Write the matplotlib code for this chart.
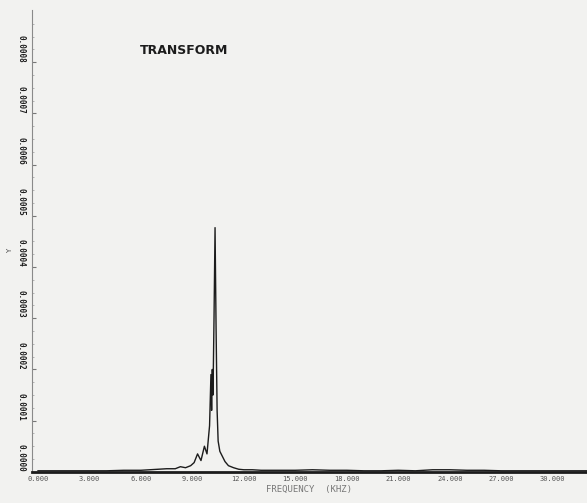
import matplotlib.pyplot as plt
import numpy as np

# spectrum (frequency in kHz, amplitude)
freq = [0.0, 1.0, 2.0, 3.0, 4.0, 5.0, 6.0, 6.5, 7.0, 7.5, 8.0, 8.3, 8.6, 8.9,
        9.1, 9.3, 9.5, 9.7, 9.85, 10.0, 10.08, 10.12, 10.16, 10.2, 10.26,
        10.32, 10.38, 10.44, 10.5, 10.6, 10.75, 10.9, 11.1, 11.4, 11.7, 12.0,
        12.5, 13.0, 14.0, 15.0, 16.0, 17.0, 18.0, 19.0, 20.0, 21.0, 22.0,
        23.0, 24.0, 25.0, 26.0, 27.0, 28.0, 29.0, 30.0, 31.0, 32.0]
amp = [0.000002, 0.000002, 0.000002, 0.000002, 0.000002, 0.000003, 0.000003,
       0.000004, 0.000005, 0.000006, 0.000006, 0.000010, 0.000008, 0.000012,
       0.000018, 0.000035, 0.000022, 0.000050, 0.000035, 0.000090, 0.000190,
       0.000120, 0.000200, 0.000150, 0.000300, 0.000477, 0.000280, 0.000120,
       0.000060, 0.000040, 0.000030, 0.000020, 0.000012, 0.000008, 0.000005,
       0.000004, 0.000004, 0.000003, 0.000003, 0.000003, 0.000004, 0.000003,
       0.000003, 0.000002, 0.000002, 0.000003, 0.000002, 0.000004, 0.000004,
       0.000003, 0.000003, 0.000002, 0.000002, 0.000002, 0.000002, 0.000002,
       0.000002]

x_ticks = [0, 3, 6, 9, 12, 15, 18, 21, 24, 27, 30]
y_ticks = [0.0, 0.0001, 0.0002, 0.0003, 0.0004, 0.0005, 0.0006, 0.0007, 0.0008]

bg = '#f2f2f0'
ink = '#1c1c1c'

fig = plt.figure(figsize=(5.87, 5.03), dpi=100, facecolor=bg)
ax = fig.add_axes([0.0545, 0.062, 0.9455, 0.918], facecolor=bg)

ax.plot(freq, amp, color=ink, lw=1.0)

ax.set_xlim(-0.35, 32.0)
ax.set_ylim(0, 0.000902)

for s in ['top', 'right']:
    ax.spines[s].set_visible(False)
ax.spines['left'].set_color('#8a8a8a')
ax.spines['left'].set_linewidth(0.8)
ax.spines['bottom'].set_color(ink)
ax.spines['bottom'].set_linewidth(2.0)

ax.set_xticks(x_ticks)
ax.set_xticklabels(['%.3f' % v for v in x_ticks], fontsize=5, color='#555555',
                   family='monospace')
ax.tick_params(axis='x', length=0, pad=3)

ax.set_yticks(y_ticks)
ax.set_yticklabels([])
ax.set_yticks(np.arange(0, 0.0009, 0.000025), minor=True)
ax.tick_params(axis='y', which='major', direction='in', length=3, color='#777777')
ax.tick_params(axis='y', which='minor', direction='in', length=1.5, color='#aaaaaa')

for v in y_ticks:
    ax.text(-0.012, v, '%.4f' % v, transform=ax.get_yaxis_transform(),
            rotation=270, ha='right', va='bottom', fontsize=5.5,
            fontweight='bold', color=ink, family='monospace')

ax.text(-0.04, 0.000432, 'Y', transform=ax.get_yaxis_transform(), fontsize=5,
        color='#444444', rotation=90, ha='center', va='center')

ax.set_xlabel('FREQUENCY  (KHZ)', fontsize=6.5, color='#777777', labelpad=2,
              family='monospace')

ax.text(0.195, 0.905, 'TRANSFORM', transform=ax.transAxes, fontsize=9,
        fontweight='bold', color=ink)

fig.savefig('out.png', dpi=100, facecolor=bg)
